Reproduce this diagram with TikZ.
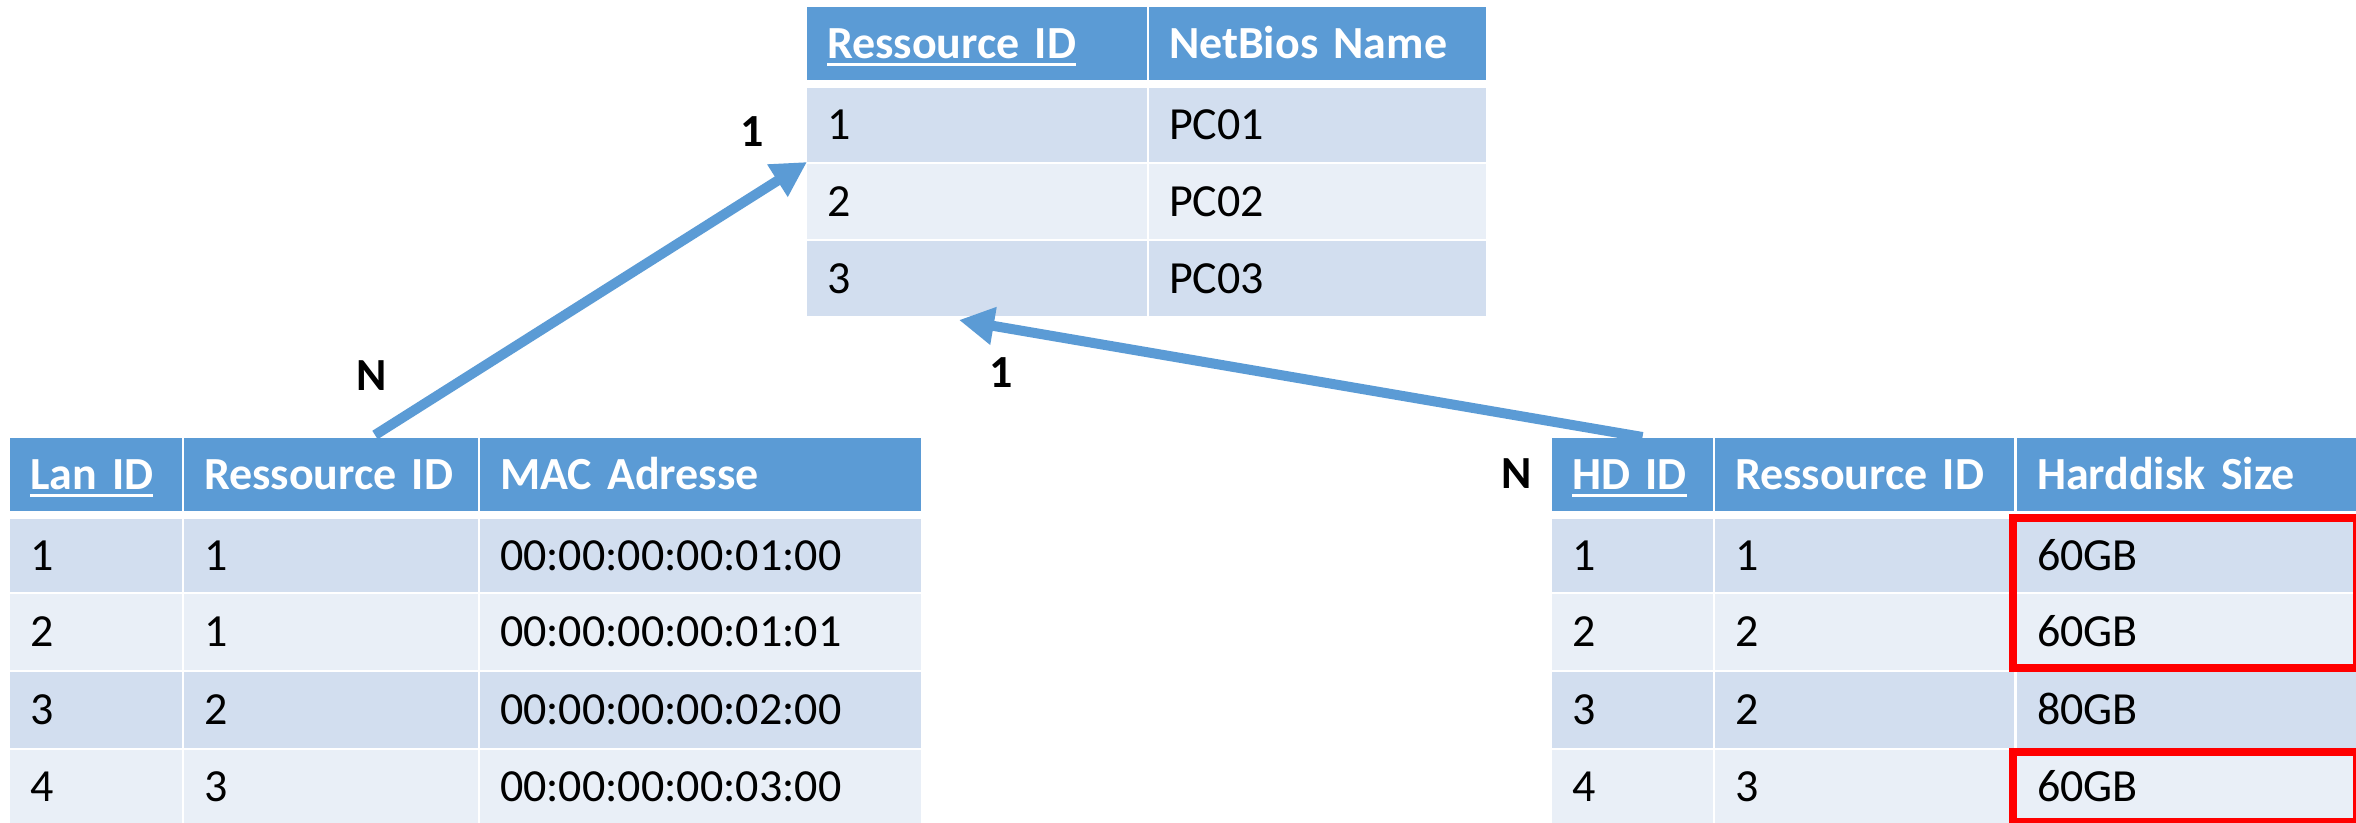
\documentclass[tikz,border=0pt]{standalone}
\usepackage{fontspec}
\setmainfont{Carlito}
\usetikzlibrary{arrows.meta,calc}
\definecolor{hdr}{RGB}{91,155,213}
\definecolor{bandA}{RGB}{210,222,239}
\definecolor{bandB}{RGB}{233,239,247}
\definecolor{hired}{RGB}{255,0,0}
\newcommand{\keyul}[1]{\setbox0\hbox{#1}\rlap{\rule[-8pt]{\wd0}{3pt}}\box0}
\tikzset{
  cellbase/.style={anchor=north west, inner xsep=20pt, inner ysep=0pt, outer sep=0pt,
    text height=29pt, text depth=0pt, align=left, font=\fontsize{46}{54}\selectfont},
  hcell/.style={cellbase, fill=hdr, text=white, font=\fontsize{46}{54}\selectfont\bfseries},
  rowA/.style={cellbase, fill=bandA, text=black},
  rowB/.style={cellbase, fill=bandB, text=black},
  cw/.style 2 args={text width=#1pt, minimum height=#2pt},
  rel/.style={draw=hdr, line width=10pt, -{Triangle[length=35pt,width=36pt]}},
  card/.style={font=\fontsize{46}{54}\selectfont\bfseries, inner sep=0pt, anchor=center},
  hibox/.style={draw=hired, line width=8pt},
}
\begin{document}
\begin{tikzpicture}[x=1pt,y=-1pt]
\useasboundingbox (0,0) rectangle (2356,822);
\fill[white] (0,0) rectangle (2356,822);

% ---------------- top table ----------------
\node[hcell, cw={300}{73}] (th1) at (807,7) {\keyul{Ressource ID}};
\node[hcell, cw={297}{73}] (th2) at (1149,7) {NetBios Name};
\node[rowA, cw={300}{74}] (t11) at (807,88) {1};
\node[rowA, cw={297}{74}] (t12) at (1149,88) {PC01};
\node[rowB, cw={300}{75}] (t21) at (807,164) {2};
\node[rowB, cw={297}{75}] (t22) at (1149,164) {PC02};
\node[rowA, cw={300}{75}] (t31) at (807,241) {3};
\node[rowA, cw={297}{75}] (t32) at (1149,241) {PC03};

% ---------------- left table ----------------
\node[hcell, cw={132}{73}] (lh1) at (10,438) {\keyul{Lan ID}};
\node[hcell, cw={254}{73}] (lh2) at (184,438) {Ressource ID};
\node[hcell, cw={401}{73}] (lh3) at (480,438) {MAC Adresse};
\node[rowA, cw={132}{73}] (l11) at (10,519) {1};
\node[rowA, cw={254}{73}] (l12) at (184,519) {1};
\node[rowA, cw={401}{73}] (l13) at (480,519) {00:00:00:00:01:00};
\node[rowB, cw={132}{76}] (l21) at (10,594) {2};
\node[rowB, cw={254}{76}] (l22) at (184,594) {1};
\node[rowB, cw={401}{76}] (l23) at (480,594) {00:00:00:00:01:01};
\node[rowA, cw={132}{76}] (l31) at (10,672) {3};
\node[rowA, cw={254}{76}] (l32) at (184,672) {2};
\node[rowA, cw={401}{76}] (l33) at (480,672) {00:00:00:00:02:00};
\node[rowB, cw={132}{74}] (l41) at (10,750) {4};
\node[rowB, cw={254}{74}] (l42) at (184,750) {3};
\node[rowB, cw={401}{74}] (l43) at (480,750) {00:00:00:00:03:00};

% ---------------- right table ----------------
\node[hcell, cw={121}{73}] (rh1) at (1552,438) {\keyul{HD ID}};
\node[hcell, cw={259}{73}] (rh2) at (1715,438) {Ressource ID};
\node[hcell, cw={299}{73}] (rh3) at (2017,438) {Harddisk Size};
\node[rowA, cw={121}{73}] (r11) at (1552,519) {1};
\node[rowA, cw={259}{73}] (r12) at (1715,519) {1};
\node[rowA, cw={299}{73}] (r13) at (2017,519) {60GB};
\node[rowB, cw={121}{76}] (r21) at (1552,594) {2};
\node[rowB, cw={259}{76}] (r22) at (1715,594) {2};
\node[rowB, cw={299}{76}] (r23) at (2017,594) {60GB};
\node[rowA, cw={121}{76}] (r31) at (1552,672) {3};
\node[rowA, cw={259}{76}] (r32) at (1715,672) {2};
\node[rowA, cw={299}{76}] (r33) at (2017,672) {80GB};
\node[rowB, cw={121}{74}] (r41) at (1552,750) {4};
\node[rowB, cw={259}{74}] (r42) at (1715,750) {3};
\node[rowB, cw={299}{74}] (r43) at (2017,750) {60GB};

% ---------------- highlight boxes ----------------
\draw[hibox] (2013,518) rectangle (2357,668);
\draw[hibox] (2013,752) rectangle (2357,822);

% ---------------- relationships ----------------
\coordinate (a1) at ($(lh2.north west)+(191,-3)$);
\draw[rel] (a1) -- (t11.south west);
\coordinate (a2) at ($(rh1.north)+(10,-1)$);
\coordinate (b2) at ($(t31.south)+(-18,4)$);
\draw[rel] (a2) -- (b2);

\node[card] (c1) at (752,132) {1};
\node[card] (cn1) at (372,376) {N};
\node[card] (c2) at (1001,373) {1};
\node[card] (cn2) at (1517,474) {N};
\end{tikzpicture}
\end{document}
